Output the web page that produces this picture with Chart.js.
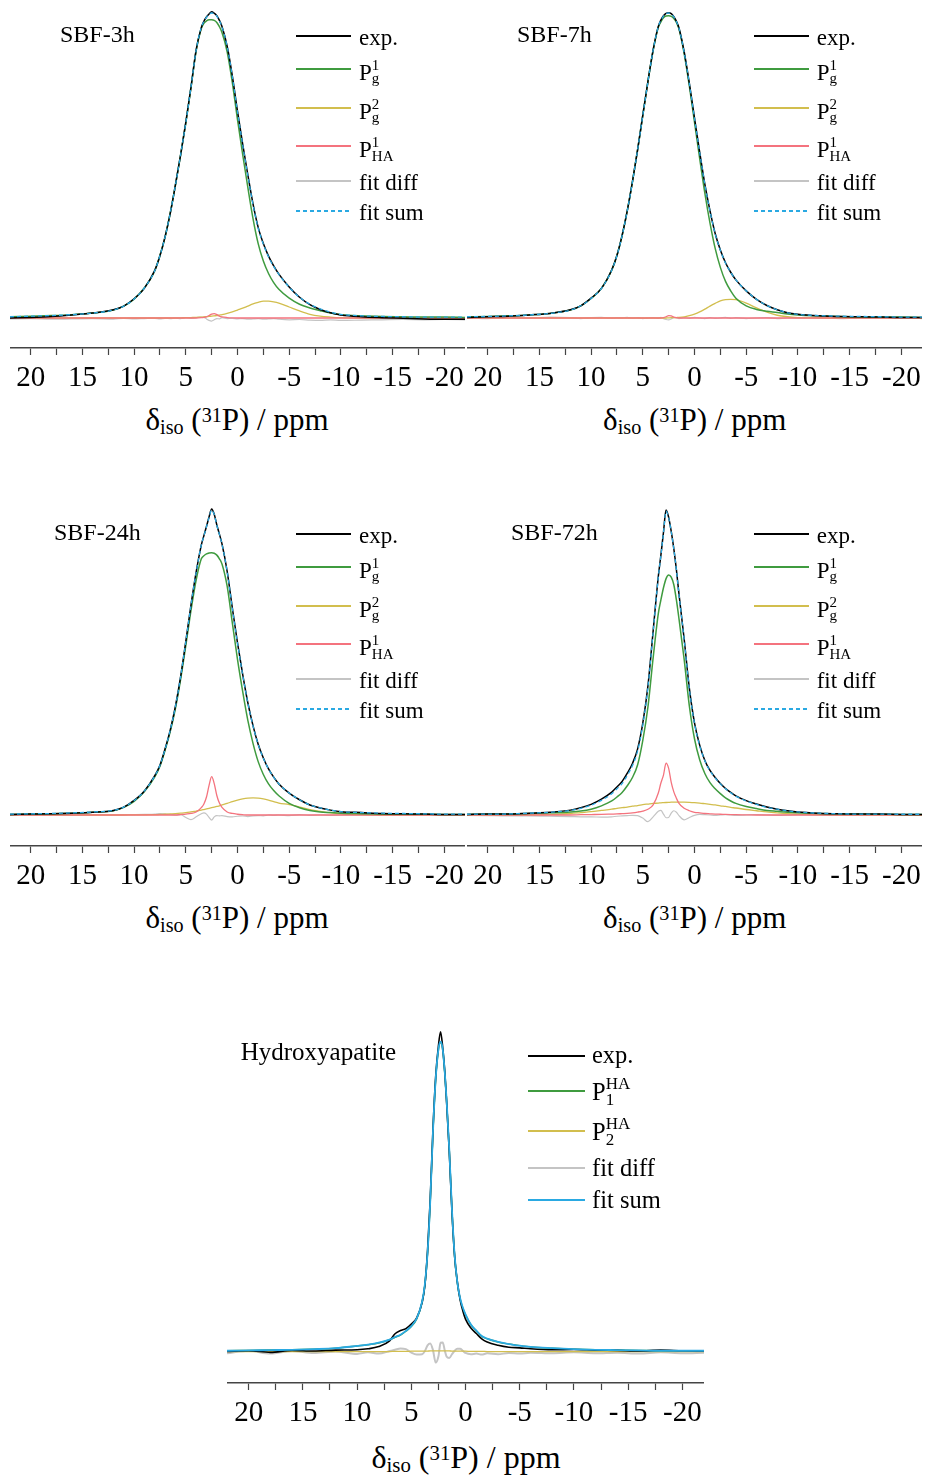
<!DOCTYPE html>
<html>
<head>
<meta charset="utf-8">
<script src="https://cdn.jsdelivr.net/npm/chart.js@4.4.1/dist/chart.umd.min.js"></script>
<style>
  body { margin: 0; background: #fff; width: 925px; height: 1478px; position: relative; overflow: hidden;
         font-family: 'Liberation Serif', 'Times New Roman', serif; color: #000; }
  canvas { position: absolute; }
  .title { position: absolute; font-size: 24px; line-height: 24px; white-space: nowrap; }
  .axt { position: absolute; width: 320px; text-align: center; font-size: 31px; line-height: 31px; white-space: nowrap; }
  .axt sub { font-size: 0.65em; line-height: 0; vertical-align: -0.2em; }
  .axt sup { font-size: 0.65em; line-height: 0; vertical-align: 0.4em; }
  .ln { position: absolute; height: 2px; }
  .dash { position: absolute; height: 2px; background: repeating-linear-gradient(90deg, #2aa9e2 0 4px, transparent 4px 7px); }
  .tx { position: absolute; font-size: 23px; line-height: 23px; white-space: nowrap; }
  .ss { display: inline-block; position: relative; width: 0; height: 0; }
  .ss span { position: absolute; left: 0; font-size: 15px; line-height: 15px; }
  .ha .tx { font-size: 24.5px; line-height: 24.5px; }
  .ha .ss span { font-size: 17px; line-height: 17px; }
</style>
</head>
<body>
<canvas id="c3h" width="455" height="398" style="left:10px;top:0px"></canvas>
<canvas id="c7h" width="455" height="398" style="left:467px;top:0px"></canvas>
<canvas id="c24h" width="455" height="398" style="left:10px;top:498px"></canvas>
<canvas id="c72h" width="455" height="398" style="left:467px;top:498px"></canvas>
<canvas id="cha" width="477" height="413" style="left:227px;top:1020px"></canvas>
<div id="ovl"></div>
<script>
// chemical shift grid (ppm) for the SBF spectra
const ppm = [22, 20, 18, 16, 14, 12, 11, 10, 9, 8,
  7.5, 7, 6.5, 6, 5.5, 5, 4.5, 4, 3.5, 3.25,
  3, 2.75, 2.5, 2.25, 2, 1.75, 1.5, 1, 0.5, 0,
  -0.5, -1, -1.5, -2, -2.5, -3, -3.5, -4, -5, -6,
  -7, -8, -9, -10, -12, -14, -16, -18, -20, -22];

// SBF-3h
const sbf3hExp = [0.0, 0.2, 0.5, 1.0, 1.6, 2.7, 3.9, 6.3, 9.8, 15.6,
  20.4, 26.7, 34.4, 43.7, 53.5, 64.1, 75.6, 87.9, 95.2, 97.3,
  98.7, 99.7, 100.4, 99.9, 99.1, 97.6, 95.6, 89.1, 79.4, 67.8,
  57.0, 46.9, 37.4, 29.7, 24.4, 20.3, 17.1, 14.4, 10.2, 6.8,
  4.4, 2.8, 1.7, 1.0, 0.4, 0.1, -0.1, -0.3, -0.4, -0.4];
const sbf3hPg1 = [0.4, 0.6, 0.8, 1.1, 1.6, 2.6, 3.9, 6.2, 9.9, 15.5,
  20.5, 26.6, 34.5, 43.6, 53.5, 63.9, 75.5, 87.5, 94.9, 96.6,
  97.4, 97.8, 97.8, 97.6, 96.9, 95.5, 93.6, 87.3, 77.2, 65,
  53.6, 42.8, 32.6, 24.4, 18.7, 14.6, 11.6, 9.4, 6.5, 4.5,
  3.3, 2.4, 1.6, 1.1, 0.7, 0.5, 0.4, 0.3, 0.3, 0.2];
const sbf3hPg2 = [0, 0, 0, 0, 0, 0, 0, 0, 0, 0,
  0, 0, 0, 0, 0.05, 0.1, 0.15, 0.2, 0.3, 0.35,
  0.45, 0.5, 0.6, 0.7, 0.8, 0.95, 1.1, 1.5, 2.0, 2.6,
  3.2, 3.9, 4.6, 5.1, 5.5, 5.5, 5.3, 4.9, 3.6, 2.3,
  1.2, 0.6, 0.3, 0.1, 0, 0, 0, 0, 0, 0];
const sbf3hPha = [0, 0, 0, 0, 0, 0, 0, 0, 0, 0,
  0, 0, 0, 0, 0, 0, 0, 0, 0.1, 0.2,
  0.4, 0.8, 1.3, 1.4, 1.1, 0.6, 0.35, 0.15, 0.05, 0,
  0, 0, 0, 0, 0, 0, 0, 0, 0, 0,
  0, 0, 0, 0, 0, 0, 0, 0, 0, 0];
const sbf3hDiff = [-0.3, -0.2, -0.4, -0.3, -0.2, -0.4, -0.1, -0.3, -0.2, -0.1,
  -0.3, -0.1, -0.2, 0, -0.2, 0.1, -0.1, 0.1, 0.3, 0.2,
  -0.3, -0.8, -1.0, -0.6, -0.2, -0.3, 0.1, -0.2, -0.1, -0.3,
  -0.2, -0.4, -0.3, -0.2, -0.4, -0.3, -0.2, -0.4, -0.6, -0.5,
  -0.7, -0.8, -0.6, -0.8, -0.7, -0.6, -0.5, -0.6, -0.5, -0.6];
const sbf3hSum = [0.4, 0.6, 0.8, 1.1, 1.6, 2.6, 3.9, 6.2, 9.9, 15.5,
  20.5, 26.6, 34.5, 43.6, 53.6, 64, 75.7, 87.8, 95.3, 97.2,
  98.6, 99.6, 100, 99.8, 99, 97.5, 95.5, 89, 79.2, 67.6,
  56.8, 46.7, 37.2, 29.5, 24.2, 20.1, 16.9, 14.3, 10.1, 6.8,
  4.5, 3.0, 1.9, 1.2, 0.7, 0.5, 0.4, 0.3, 0.3, 0.3];

// SBF-7h
const sbf7hExp = [0.2, 0.4, 0.6, 1.0, 1.5, 2.7, 4.0, 6.5, 9.7, 15.8,
  20.5, 27.1, 35.2, 44.7, 55.2, 66.5, 77.6, 87.9, 95.6, 97.7,
  99.1, 99.9, 100.1, 99.8, 98.8, 97.3, 95.1, 87.3, 77.0, 65.6,
  54.4, 43.9, 35.1, 27.7, 22.3, 18.1, 15.0, 12.5, 8.9, 6.1,
  4.1, 2.7, 1.7, 1.2, 0.7, 0.5, 0.4, 0.3, 0.2, 0.2];
const sbf7hPg1 = [0.4, 0.5, 0.7, 1.0, 1.5, 2.6, 4.0, 6.4, 9.7, 15.7,
  20.5, 27, 35.2, 44.6, 55.2, 66.4, 77.6, 87.7, 95.3, 97.1,
  98.4, 99.0, 99.1, 98.9, 98.2, 96.9, 94.7, 86.7, 76.1, 64.2,
  52.3, 40.9, 31.1, 22.8, 16.6, 12.0, 8.9, 6.5, 4.0, 2.8,
  2.2, 1.8, 1.3, 1.0, 0.7, 0.5, 0.4, 0.3, 0.3, 0.2];
const sbf7hPg2 = [0, 0, 0, 0, 0, 0, 0, 0, 0, 0,
  0, 0, 0, 0, 0, 0, 0, 0, 0, 0,
  0, 0, 0.05, 0.1, 0.1, 0.15, 0.2, 0.4, 0.8, 1.3,
  2.0, 2.9, 3.9, 4.8, 5.6, 6.0, 6.1, 6.0, 4.9, 3.3,
  1.9, 0.9, 0.4, 0.15, 0, 0, 0, 0, 0, 0];
const sbf7hPha = [0, 0, 0, 0, 0, 0, 0, 0, 0, 0,
  0, 0, 0, 0, 0, 0, 0, 0, 0, 0,
  0.1, 0.4, 0.8, 0.7, 0.3, 0.1, 0, 0, 0, 0,
  0, 0, 0, 0, 0, 0, 0, 0, 0, 0,
  0, 0, 0, 0, 0, 0, 0, 0, 0, 0];
const sbf7hDiff = [0.1, -0.2, 0.2, -0.1, 0.3, 0.1, -0.2, 0.1, 0.2, -0.1,
  0.1, 0, 0.2, -0.1, 0.1, -0.2, 0, 0.1, -0.1, 0.2,
  -0.2, -0.5, -0.6, -0.3, 0.1, 0, -0.2, 0.1, -0.1, 0.2,
  0, -0.2, 0.1, -0.1, 0, 0.2, -0.1, 0.1, -0.2, 0,
  0.1, -0.2, 0, -0.1, 0.1, -0.2, 0, -0.1, 0.1, -0.2];
const sbf7hSum = [0.4, 0.5, 0.7, 1.0, 1.5, 2.6, 4.0, 6.4, 9.7, 15.7,
  20.5, 27, 35.2, 44.6, 55.2, 66.4, 77.6, 87.8, 95.6, 97.6,
  99.0, 99.8, 100, 99.7, 98.7, 97.2, 95.0, 87.1, 76.9, 65.5,
  54.3, 43.8, 35, 27.6, 22.2, 18.0, 15.0, 12.5, 8.9, 6.1,
  4.1, 2.7, 1.7, 1.2, 0.8, 0.6, 0.5, 0.4, 0.3, 0.3];

// SBF-24h
const sbf24hExp = [0.2, 0.3, 0.4, 0.6, 0.9, 1.5, 2.6, 4.8, 7.9, 12.9,
  16.3, 21.7, 27.9, 35.7, 45.4, 56.9, 68.8, 79.6, 88.5, 91.6,
  94.6, 97.7, 100.3, 98.6, 95.1, 92.1, 88.9, 79.9, 67.9, 56.4,
  46.1, 36.8, 29.3, 23.2, 18.7, 15.1, 12.4, 10.2, 7.2, 5.0,
  3.3, 2.3, 1.6, 1.1, 0.8, 0.5, 0.4, 0.3, 0.2, 0.2];
const sbf24hPg1 = [0.2, 0.3, 0.4, 0.6, 0.9, 1.4, 2.5, 4.5, 7.7, 12.5,
  16.0, 21.3, 27.4, 35, 44.5, 55.5, 67, 77, 84, 85,
  85.6, 85.9, 86, 85.8, 85.2, 84, 82.3, 75, 63, 51,
  40.5, 31, 23.5, 17.5, 13.3, 10.2, 8, 6.3, 3.8, 2.4,
  1.5, 1.0, 0.8, 0.6, 0.45, 0.35, 0.3, 0.25, 0.2, 0.2];
const sbf24hPg2 = [0, 0, 0, 0, 0, 0, 0, 0.05, 0.05, 0.1,
  0.2, 0.25, 0.35, 0.45, 0.6, 0.8, 1.0, 1.3, 1.6, 1.8,
  2.0, 2.2, 2.4, 2.6, 2.8, 3.0, 3.3, 3.8, 4.4, 4.9,
  5.3, 5.55, 5.6, 5.55, 5.3, 4.9, 4.4, 3.9, 3.4, 2.6,
  1.8, 1.2, 0.7, 0.4, 0.1, 0, 0, 0, 0, 0];
const sbf24hPha = [0, 0, 0, 0, 0, 0, 0, 0, 0, 0,
  0, 0, 0, 0, 0.15, 0.3, 0.5, 1.0, 2.4, 3.6,
  5.9, 9.7, 12.6, 10.3, 6.4, 3.9, 2.5, 1.0, 0.5, 0.25,
  0.1, 0, 0, 0, 0, 0, 0, 0, 0, 0,
  0, 0, 0, 0, 0, 0, 0, 0, 0, 0];
const sbf24hDiff = [0, -0.1, 0.1, 0, 0.1, -0.1, 0, 0.1, 0.2, 0.3,
  0.5, 0.4, 0.2, 0, 0.1, -0.8, -1.5, -0.6, 0.4, 0.7,
  0.3, -0.8, -1.7, -0.6, -0.2, -0.3, -0.2, -0.5, -0.6, -0.4,
  -0.3, -0.5, -0.3, -0.2, -0.3, 0, -0.1, 0, -0.2, 0.1,
  -0.1, 0, -0.1, 0, 0.1, -0.1, 0, 0.1, -0.1, 0];
const sbf24hSum = [0.3, 0.4, 0.5, 0.7, 1.0, 1.5, 2.6, 4.7, 7.9, 12.8,
  16.3, 21.6, 27.9, 35.6, 45.4, 56.8, 68.8, 79.5, 88.5, 91.5,
  94.5, 97.5, 100, 98.5, 95, 92, 88.8, 79.8, 67.8, 56.3,
  46, 36.7, 29.2, 23.1, 18.6, 15.1, 12.4, 10.2, 7.2, 5.0,
  3.3, 2.3, 1.6, 1.1, 0.8, 0.6, 0.5, 0.4, 0.3, 0.3];

// SBF-72h
const sbf72hExp = [0.2, 0.3, 0.3, 0.6, 0.9, 1.6, 2.4, 3.5, 5.2, 7.5,
  9.2, 11.0, 13.7, 16.9, 21.7, 30.1, 42.4, 60.3, 78.2, 85.2,
  92.7, 100, 97.6, 93.0, 87.3, 80.4, 72.4, 57.7, 41.6, 30.2,
  22.9, 17.9, 14.6, 12.3, 10.3, 8.7, 7.4, 6.3, 4.7, 3.6,
  2.6, 1.9, 1.4, 1.0, 0.6, 0.4, 0.3, 0.3, 0.2, 0.2];
const sbf72hPg1 = [0.2, 0.3, 0.35, 0.5, 0.7, 1.0, 1.3, 1.9, 3.0, 4.6,
  5.9, 7.4, 9.6, 12.3, 16.5, 24.5, 35.5, 51.5, 66, 70.5,
  74.5, 77.5, 78.7, 78, 75.5, 70.5, 64.3, 51, 35.8, 25,
  18.1, 13.6, 10.6, 8.6, 7.0, 5.6, 4.6, 3.8, 2.8, 2.1,
  1.5, 1.2, 0.9, 0.7, 0.5, 0.4, 0.3, 0.25, 0.2, 0.2];
const sbf72hPg2 = [0, 0, 0, 0.05, 0.2, 0.5, 0.8, 1.1, 1.5, 1.9,
  2.2, 2.4, 2.6, 2.9, 3.1, 3.4, 3.6, 3.8, 3.9, 4.0,
  4.05, 4.1, 4.15, 4.2, 4.2, 4.2, 4.2, 4.2, 4.15, 4.05,
  3.9, 3.7, 3.5, 3.3, 3.0, 2.8, 2.5, 2.3, 1.8, 1.4,
  1.0, 0.7, 0.45, 0.3, 0.1, 0, 0, 0, 0, 0];
const sbf72hPha = [0, 0, 0, 0, 0, 0, 0.1, 0.15, 0.2, 0.3,
  0.35, 0.45, 0.55, 0.7, 0.95, 1.3, 1.9, 3.3, 7.2, 10.5,
  13.1, 17.0, 15.3, 10.7, 7.6, 5.5, 3.8, 2.2, 1.4, 0.9,
  0.7, 0.5, 0.4, 0.3, 0.25, 0.2, 0.15, 0.1, 0.05, 0,
  0, 0, 0, 0, 0, 0, 0, 0, 0, 0];
const sbf72hDiff = [-0.1, -0.2, -0.3, -0.3, -0.4, -0.5, -0.6, -0.6, -0.7, -0.6,
  -0.4, -0.3, -0.2, -0.1, -0.2, -1.0, -2.2, -0.6, 1.2, 1.5,
  0.3, -0.9, -0.8, 0.6, 1.4, 0.9, -0.2, -1.6, -0.8, -0.1,
  0.2, 0.1, 0, -0.1, 0, 0.1, 0, -0.1, 0, 0.1,
  0, -0.1, 0, 0.1, 0, -0.1, 0, 0.1, 0, -0.1];
const sbf72hSum = [0.25, 0.3, 0.35, 0.6, 0.9, 1.5, 2.2, 3.2, 4.8, 7.0,
  8.6, 10.3, 13, 16.2, 21, 29.5, 42, 60, 78, 85,
  92.5, 99.6, 97.4, 92.9, 87.2, 80.3, 72.3, 57.5, 41.4, 30,
  22.7, 17.8, 14.5, 12.2, 10.2, 8.6, 7.3, 6.2, 4.6, 3.5,
  2.5, 1.9, 1.35, 1.0, 0.6, 0.4, 0.3, 0.3, 0.25, 0.25];

// Hydroxyapatite (finer grid around the narrow line)
const haPpm = [22, 20, 18, 16, 14, 12, 10,
  9, 8, 7, 6.5, 6, 5.5, 5, 4.5, 4,
  3.75, 3.5, 3.25, 3, 2.75, 2.5, 2.3, 2.1, 1.9, 1.75, 1.5, 1.25, 1, 0.75, 0.5, 0.25, 0,
  -0.5, -1, -1.5, -2, -3, -4, -5, -6, -8,
  -10, -12, -14, -16, -18, -20, -22];
const haExp = [0.1, 0.3, -0.2, 0.4, 0.2, 0.5, 0.6,
  0.9, 1.6, 3.4, 5.6, 6.6, 7.2, 8.6, 10.6, 15.4,
  20.6, 31.5, 47.8, 69.5, 86, 95.5, 100, 95, 87, 78.5, 62.8, 43.8, 29.6, 21.8, 16.3, 12.8, 10.2,
  7.4, 5.7, 4.0, 3.0, 2.0, 1.4, 1.2, 0.9, 0.6,
  0.7, 0.5, 0.4, 0.2, 0.5, 0.3, 0.2];
const haP1 = [0.3, 0.4, 0.5, 0.6, 0.8, 1.1, 1.8,
  2.2, 2.75, 3.75, 4.5, 5.2, 6.4, 7.85, 10.25, 15.5,
  20.8, 30.8, 46.95, 68.65, 85.05, 94.25, 96.65, 94.25, 86.55, 78.75, 63.15, 44.2, 29.8, 21.4, 16.6, 13.65, 11.55,
  8.4, 6.5, 4.8, 4.05, 3.05, 2.4, 1.9, 1.5, 1.1,
  0.8, 0.6, 0.5, 0.4, 0.3, 0.3, 0.3];
const haP2 = [0, 0, 0, 0, 0, 0, 0,
  0, 0.05, 0.05, 0.1, 0.1, 0.1, 0.15, 0.15, 0.2,
  0.2, 0.2, 0.25, 0.25, 0.25, 0.25, 0.25, 0.25, 0.25, 0.25, 0.25, 0.2, 0.2, 0.2, 0.2, 0.15, 0.15,
  0.1, 0.1, 0.1, 0.05, 0.05, 0, 0, 0, 0,
  0, 0, 0, 0, 0, 0, 0];
const haDiff = [-0.5, 0.3, -0.6, 0.2, -0.4, 0.1, -0.7,
  -0.2, -0.6, 0.2, 0.6, 1.0, 0.8, -0.3, -0.9, -0.8,
  0.2, 2.0, 2.6, 0.5, -3.4, -1.5, 2.8, 2.9, 0.2, -1.5, -2.0, -0.8, 0.3, 0.9, 0.9, 0.3, -0.4,
  -0.8, -0.6, -0.9, -0.5, -0.8, -0.4, -0.6, -0.3, -0.5,
  -0.2, -0.5, -0.3, -0.6, -0.2, -0.5, -0.3];
const haSum = [0.3, 0.4, 0.5, 0.6, 0.8, 1.1, 1.8,
  2.2, 2.8, 3.8, 4.6, 5.3, 6.5, 8.0, 10.4, 15.7,
  21, 31, 47.2, 68.9, 85.3, 94.5, 96.9, 94.5, 86.8, 79, 63.4, 44.4, 30, 21.6, 16.8, 13.8, 11.7,
  8.5, 6.6, 4.9, 4.1, 3.1, 2.4, 1.9, 1.5, 1.1,
  0.8, 0.6, 0.5, 0.4, 0.3, 0.3, 0.3];

// axis ticks
const tickValues = [20, 17.5, 15, 12.5, 10, 7.5, 5, 2.5, 0, -2.5, -5, -7.5, -10, -12.5, -15, -17.5, -20];
const tickLabels = [20, 15, 10, 5, 0, -5, -10, -15, -20];

const BLACK = '#000000', GREEN = '#3f9b3f', YELLOW = '#d2be4e', PINK = '#f4737e', GRAY = '#c4c4c4', BLUE = '#2aa9e2';

function line(xs, ys, color, width, order, dash) {
  return {
    data: xs.map((x, i) => ({ x: x, y: ys[i] })),
    borderColor: color, borderWidth: width, borderDash: dash || [],
    pointRadius: 0, fill: false, order: order
  };
}

function makeChart(id, datasets, yMin, yMax) {
  new Chart(document.getElementById(id), {
    type: 'line',
    data: { datasets: datasets },
    options: {
      responsive: false,
      animation: false,
      layout: { padding: 0 },
      elements: { line: { cubicInterpolationMode: 'monotone', borderJoinStyle: 'round' } },
      plugins: { legend: { display: false }, tooltip: { enabled: false } },
      scales: {
        x: {
          type: 'linear', reverse: true, min: -22, max: 22,
          afterBuildTicks: s => { s.ticks = tickValues.map(v => ({ value: v })); },
          afterFit: s => { s.height = 50; s.paddingLeft = 0; s.paddingRight = 0; },
          ticks: {
            autoSkip: false, maxRotation: 0, padding: 6, color: '#000',
            font: { family: 'Liberation Serif', size: 29 },
            callback: v => tickLabels.includes(v) ? String(v) : ''
          },
          grid: { display: true, drawOnChartArea: false, drawTicks: true, tickLength: 7, tickColor: '#444', tickWidth: 1.2 },
          border: { display: true, color: '#444', width: 1.6 }
        },
        y: { display: false, min: yMin, max: yMax }
      }
    }
  });
}

function sbfSets(e, g1, g2, ha, diff, sum) {
  return [
    line(ppm, sum, BLUE, 1.3, 0, [4, 3]),
    line(ppm, e, BLACK, 1.5, 1),
    line(ppm, g1, GREEN, 1.5, 2),
    line(ppm, ha, PINK, 1.3, 3),
    line(ppm, g2, YELLOW, 1.3, 4),
    line(ppm, diff, GRAY, 1.2, 5)
  ];
}

makeChart('c3h', sbfSets(sbf3hExp, sbf3hPg1, sbf3hPg2, sbf3hPha, sbf3hDiff, sbf3hSum), -9.84, 104.26);
makeChart('c7h', sbfSets(sbf7hExp, sbf7hPg1, sbf7hPg2, sbf7hPha, sbf7hDiff, sbf7hSum), -9.84, 104.26);
makeChart('c24h', sbfSets(sbf24hExp, sbf24hPg1, sbf24hPg2, sbf24hPha, sbf24hDiff, sbf24hSum), -10.16, 103.93);
makeChart('c72h', sbfSets(sbf72hExp, sbf72hPg1, sbf72hPg2, sbf72hPha, sbf72hDiff, sbf72hSum), -10.16, 103.93);
makeChart('cha', [
  line(haPpm, haSum, BLUE, 1.8, 0),
  line(haPpm, haExp, BLACK, 1.6, 1),
  line(haPpm, haP1, GREEN, 1.5, 2),
  line(haPpm, haP2, YELLOW, 1.3, 3),
  line(haPpm, haDiff, GRAY, 2, 4)
], -9.78, 103.66);

// overlay text: titles, axis titles, legends
const ovl = document.getElementById('ovl');
function add(html) { ovl.insertAdjacentHTML('beforeend', html); }
function ss(up, down, upTop, downTop) {
  return '<span class="ss"><span style="top:' + upTop + 'px">' + up + '</span><span style="top:' + downTop + 'px">' + down + '</span></span>';
}
function legLine(x, y, w, color, dashed) {
  if (dashed) return '<div class="dash" style="left:' + x + 'px;top:' + (y - 1) + 'px;width:' + w + 'px"></div>';
  return '<div class="ln" style="left:' + x + 'px;top:' + (y - 1) + 'px;width:' + w + 'px;background:' + color + '"></div>';
}
const axisTitle = '&delta;<sub>iso</sub> (<sup>31</sup>P) / ppm';

function sbfPanel(name, x0, y0, zeroX) {
  add('<div class="title" style="left:' + (x0 + 50) + 'px;top:' + (y0 + 21.6) + 'px">' + name + '</div>');
  add('<div class="axt" style="left:' + (zeroX - 160) + 'px;top:' + (y0 + 404) + 'px">' + axisTitle + '</div>');
  const lx = Math.round(zeroX + 59), tx = zeroX + 122;
  const rows = [
    ['exp.', BLACK, false, 36],
    ['P' + ss('1', 'g', -21.6, -8.6), GREEN, false, 69],
    ['P' + ss('2', 'g', -21.6, -8.6), YELLOW, false, 108],
    ['P' + ss('1', 'HA', -21.6, -7.6), PINK, false, 146],
    ['fit diff', GRAY, false, 181],
    ['fit sum', BLUE, true, 211]
  ];
  rows.forEach(r => {
    const y = y0 + r[3];
    add(legLine(lx, y, 55, r[1], r[2]));
    const base = r[0].charAt(0) === 'P' ? 11 : 9.5;
    add('<div class="tx" style="left:' + tx + 'px;top:' + (y + base - 19.3) + 'px">' + r[0] + '</div>');
  });
}
sbfPanel('SBF-3h', 10, 0, 237);
sbfPanel('SBF-7h', 467, 0, 694.7);
sbfPanel('SBF-24h', 4, 498, 237);
sbfPanel('SBF-72h', 461, 498, 694.7);

// hydroxyapatite panel
add('<div class="title" style="font-size:25px;line-height:25px;left:240.7px;top:1039px">Hydroxyapatite</div>');
add('<div class="axt" style="font-size:32px;line-height:32px;left:306px;top:1441px">' + axisTitle + '</div>');
let haLeg = '<div class="ha">';
[
  ['exp.', BLACK, 1056, 7],
  ['P' + ss('HA', '1', -24.2, -8.2), GREEN, 1091, 9],
  ['P' + ss('HA', '2', -24.2, -8.2), YELLOW, 1131, 9],
  ['fit diff', GRAY, 1168, 8],
  ['fit sum', BLUE, 1200, 8]
].forEach(r => {
  haLeg += legLine(528, r[2], 57, r[1], false);
  haLeg += '<div class="tx" style="left:592px;top:' + (r[2] + r[3] - 20.5) + 'px">' + r[0] + '</div>';
});
add(haLeg + '</div>');
</script>
</body>
</html>
